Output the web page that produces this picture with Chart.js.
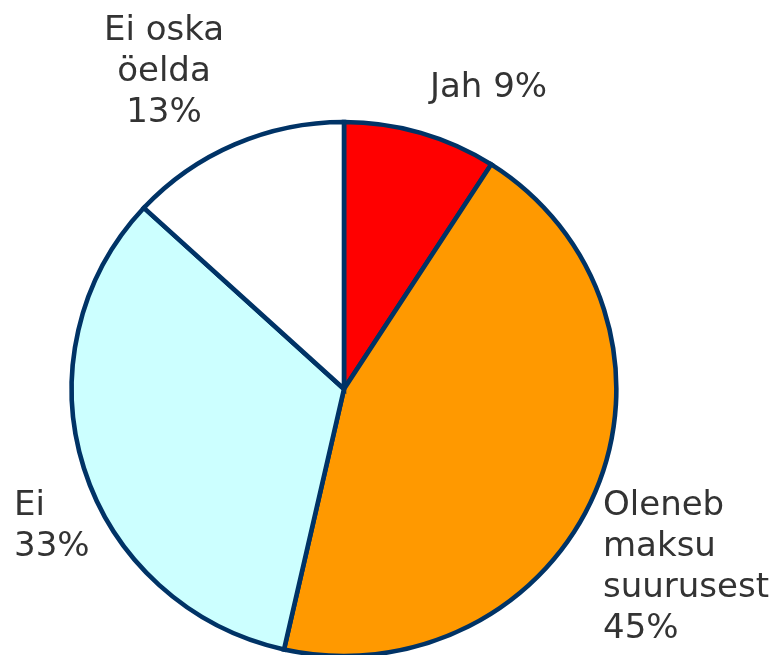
<!DOCTYPE html>
<html>
<head>
<meta charset="utf-8">
<script src="https://cdn.jsdelivr.net/npm/chart.js@4/dist/chart.umd.min.js"></script>
<style>
  html, body { margin: 0; padding: 0; background: #ffffff; }
  #wrap { width: 776px; height: 655px; position: relative; }
</style>
</head>
<body>
<div id="wrap"><canvas id="c" width="776" height="655"></canvas></div>
<script>
// ---- data ----
const categories = ["Jah", "Oleneb maksu suurusest", "Ei", "Ei oska öelda"];
const values = [9, 44, 33, 13];
const percentLabels = ["9%", "45%", "33%", "13%"];
const labelLines = [
  ["Jah 9%"],
  ["Oleneb", "maksu", "suurusest", "45%"],
  ["Ei", "33%"],
  ["Ei oska", "öelda", "13%"]
];
const sliceColors = ["#FF0000", "#FF9900", "#CCFFFF", "#FFFFFF"];

// ---- layout (positions relative to pie centre, not data) ----
const labelLayout = [
  { dx: 86,   dy: -292, align: "left" },
  { dx: 259,  dy: 126,  align: "left" },
  { dx: -330, dy: 126,  align: "left" },
  { dx: -180, dy: -349, align: "center" }
];
const stretchX = 1.02;
const fontPx = 34;
const lineH = 41;

const ellipsePlugin = {
  id: "ellipse",
  beforeDatasetsDraw(chart) {
    const arc = chart.getDatasetMeta(0).data[0];
    const ctx = chart.ctx;
    ctx.save();
    ctx.translate(arc.x, arc.y);
    ctx.scale(stretchX, 1);
    ctx.translate(-arc.x, -arc.y);
  },
  afterDatasetsDraw(chart) {
    chart.ctx.restore();
  }
};

const labelPlugin = {
  id: "outLabels",
  afterDraw(chart) {
    const ctx = chart.ctx;
    const meta = chart.getDatasetMeta(0);
    ctx.save();
    ctx.fillStyle = "#333333";
    ctx.font = fontPx + "px 'DejaVu Sans', Verdana, sans-serif";
    ctx.textBaseline = "alphabetic";
    meta.data.forEach((arc, i) => {
      const lay = labelLayout[i];
      ctx.textAlign = lay.align;
      labelLines[i].forEach((line, j) => {
        ctx.fillText(line, arc.x + lay.dx, arc.y + lay.dy + j * lineH);
      });
    });
    ctx.restore();
  }
};

new Chart(document.getElementById("c"), {
  type: "pie",
  data: {
    labels: categories,
    datasets: [{
      data: values,
      backgroundColor: sliceColors,
      borderColor: "#003366",
      borderWidth: 4.5,
      borderJoinStyle: "miter",
      hoverOffset: 0
    }]
  },
  options: {
    responsive: false,
    animation: false,
    events: [],
    radius: 267,
    layout: { padding: { left: 0, right: 88, top: 123, bottom: 0 } },
    plugins: {
      legend: { display: false },
      tooltip: { enabled: false }
    }
  },
  plugins: [ellipsePlugin, labelPlugin]
});
</script>
</body>
</html>
